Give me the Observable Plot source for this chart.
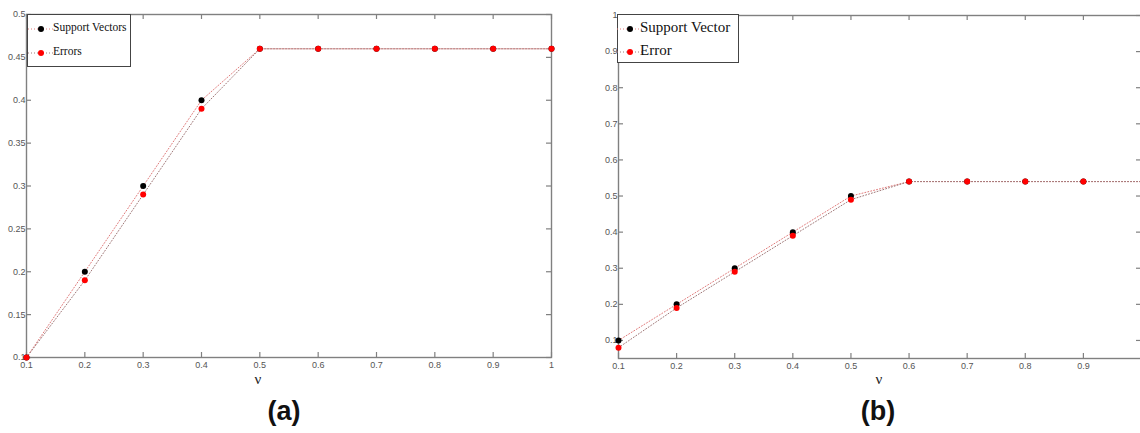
<!DOCTYPE html>
<html><head><meta charset="utf-8">
<script src="https://cdn.jsdelivr.net/npm/d3@7"></script>
<script src="https://cdn.jsdelivr.net/npm/@observablehq/plot@0.6"></script>
<style>
html,body{margin:0;padding:0;background:#fff;width:1140px;height:433px;overflow:hidden;position:relative;}
.panel{position:absolute;top:0;}
.legend{position:absolute;background:#fff;border:1px solid #444;font-family:"Liberation Serif","DejaVu Serif",serif;color:#111;}
.legend .row{position:absolute;white-space:nowrap;}
.lab{position:absolute;font-family:"Liberation Serif",serif;font-size:15px;color:#222;transform:translateX(-50%);}
.cap{position:absolute;font-family:"Liberation Sans",Arial,sans-serif;font-weight:bold;font-size:27px;color:#111;transform:translateX(-50%);}
</style></head>
<body>
<script>
// ---- data ----
const nu = [0.1, 0.2, 0.3, 0.4, 0.5, 0.6, 0.7, 0.8, 0.9, 1.0];
const svA = [0.10, 0.20, 0.30, 0.40, 0.46, 0.46, 0.46, 0.46, 0.46, 0.46];
const errA = [0.10, 0.19, 0.29, 0.39, 0.46, 0.46, 0.46, 0.46, 0.46, 0.46];
const svB = [0.10, 0.20, 0.30, 0.40, 0.50, 0.54, 0.54, 0.54, 0.54, 0.54];
const errB = [0.08, 0.19, 0.29, 0.39, 0.49, 0.54, 0.54, 0.54, 0.54, 0.54];
const xTicksA = [0.1, 0.2, 0.3, 0.4, 0.5, 0.6, 0.7, 0.8, 0.9, 1];
const xTickLabelsA = ["0.1","0.2","0.3","0.4","0.5","0.6","0.7","0.8","0.9","1"];
const yTicksA = [0.1, 0.15, 0.2, 0.25, 0.3, 0.35, 0.4, 0.45, 0.5];
const yTickLabelsA = ["0.1","0.15","0.2","0.25","0.3","0.35","0.4","0.45","0.5"];
const xTicksB = [0.1, 0.2, 0.3, 0.4, 0.5, 0.6, 0.7, 0.8, 0.9];
const xTickLabelsB = ["0.1","0.2","0.3","0.4","0.5","0.6","0.7","0.8","0.9"];
const yTicksB = [0.1, 0.2, 0.3, 0.4, 0.5, 0.6, 0.7, 0.8, 0.9, 1];
const yTickLabelsB = ["0.1","0.2","0.3","0.4","0.5","0.6","0.7","0.8","0.9","1"];
const legendA = ["Support Vectors", "Errors"];
const legendB = ["Support Vector", "Error"];
const xLabel = "ν";
const captions = ["(a)", "(b)"];

function table(sv, err) {
  return {
    sv: nu.map((x, i) => ({x, y: sv[i]})),
    err: nu.map((x, i) => ({x, y: err[i]}))
  };
}

function panel(opts) {
  const {sv, err, xTicks, xLabels, yTicks, yLabels, yDomain, width, mL, mR, mT, mB, dotMaxX} = opts;
  const h = 433;
  const ph = h - mT - mB, pw = width - mL - mR;
  const axisColor = "#808080";
  const lab = (ticks, labels) => d => labels[ticks.findIndex(t => Math.abs(t - d) < 1e-9)];
  return Plot.plot({
    width, height: h, marginLeft: mL, marginRight: mR, marginTop: mT, marginBottom: mB,
    x: {domain: [0.1, 1]},
    y: {domain: yDomain},
    style: {fontFamily: "'Liberation Sans', Arial, sans-serif", fontSize: "9px", color: "#555", background: "transparent", overflow: "visible"},
    marks: [
      Plot.frame({stroke: axisColor, strokeWidth: 1.4}),
      Plot.tickX(xTicks, {x: d => d, insetTop: ph - 5, stroke: axisColor, strokeWidth: 1.2}),
      Plot.tickX(xTicks, {x: d => d, insetBottom: ph - 5, stroke: axisColor, strokeWidth: 1.2}),
      Plot.tickY(yTicks, {y: d => d, insetRight: pw - 5, stroke: axisColor, strokeWidth: 1.2}),
      Plot.tickY(yTicks, {y: d => d, insetLeft: pw - 5, stroke: axisColor, strokeWidth: 1.2}),
      Plot.axisX({ticks: xTicks, tickFormat: lab(xTicks, xLabels), tickSize: 0, tickPadding: 4, label: null, fill: "#555"}),
      Plot.axisY({ticks: yTicks, tickFormat: lab(yTicks, yLabels), tickSize: 0, tickPadding: 1, label: null, fill: "#555"}),
      Plot.line(sv, {x: "x", y: "y", stroke: "#e07a7a", strokeWidth: 1, strokeDasharray: "1,2"}),
      Plot.line(err, {x: "x", y: "y", stroke: "#a07878", strokeWidth: 1, strokeDasharray: "1,2"}),
      Plot.dot(sv.filter(d => d.x <= dotMaxX), {x: "x", y: "y", r: 3, fill: "#000", stroke: "none"}),
      Plot.dot(err.filter(d => d.x <= dotMaxX), {x: "x", y: "y", r: 3, fill: "#f00", stroke: "none"})
    ]
  });
}

const A = table(svA, errA), B = table(svB, errB);

const pa = panel({sv: A.sv, err: A.err, xTicks: xTicksA, xLabels: xTickLabelsA, yTicks: yTicksA, yLabels: yTickLabelsA,
  yDomain: [0.1, 0.5], width: 560, mL: 26, mR: 9, mT: 14, mB: 76, dotMaxX: 1});
pa.classList.add("panel"); pa.style.left = "0px";
document.body.appendChild(pa);

const pb = panel({sv: B.sv, err: B.err, xTicks: xTicksB, xLabels: xTickLabelsB, yTicks: yTicksB, yLabels: yTickLabelsB,
  yDomain: [0.05, 1], width: 561, mL: 38, mR: 0, mT: 15, mB: 75, dotMaxX: 0.9});
pb.classList.add("panel"); pb.style.left = "580px";
document.body.appendChild(pb);

function legend(left, top, w, h, names, fs, rowYs, mx, tx) {
  const d = document.createElement("div");
  d.className = "legend";
  Object.assign(d.style, {left: left + "px", top: top + "px", width: w + "px", height: h + "px", fontSize: fs + "px"});
  const colors = ["#000", "#f00"];
  const lc = ["#e07a7a", "#a07878"];
  names.forEach((n, i) => {
    const s = document.createElementNS("http://www.w3.org/2000/svg", "svg");
    s.setAttribute("width", 26); s.setAttribute("height", 10);
    Object.assign(s.style, {position: "absolute", left: (mx - 13) + "px", top: (rowYs[i] - 5) + "px"});
    s.innerHTML = `<line x1="0" x2="26" y1="5" y2="5" stroke="${lc[i]}" stroke-dasharray="1,2"/><circle cx="13" cy="5" r="3" fill="${colors[i]}"/>`;
    d.appendChild(s);
    const t = document.createElement("div");
    t.className = "row"; t.textContent = n;
    Object.assign(t.style, {left: tx + "px", top: (rowYs[i] - fs * 0.6) + "px", lineHeight: fs + "px"});
    d.appendChild(t);
  });
  document.body.appendChild(d);
}
legend(27, 14, 102, 51, legendA, 11.5, [14, 38], 13, 25);
legend(617, 14, 120, 47, legendB, 15, [14, 37], 12, 22);

function text(cls, x, y, s) {
  const d = document.createElement("div");
  d.className = cls; d.textContent = s;
  d.style.left = x + "px"; d.style.top = y + "px";
  document.body.appendChild(d);
}
text("lab", 258, 371, xLabel);
text("lab", 879, 371, xLabel);
text("cap", 284, 396, captions[0]);
text("cap", 878, 396, captions[1]);
</script>
</body></html>
